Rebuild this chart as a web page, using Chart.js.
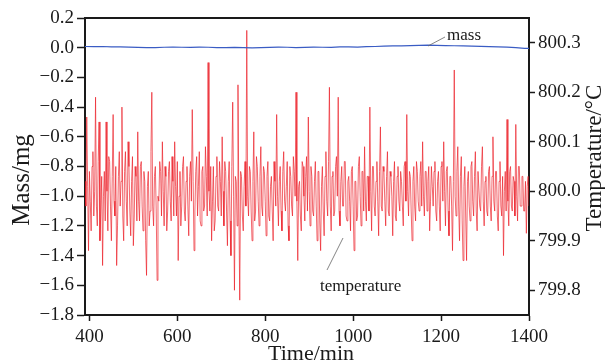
<!DOCTYPE html>
<html>
<head>
<meta charset="utf-8">
<script src="https://cdn.jsdelivr.net/npm/chart.js@4/dist/chart.umd.min.js"></script>
<style>
  body { margin: 0; background: #fff; }
</style>
</head>
<body>
<canvas id="graph" width="605" height="364"></canvas>
<script>
// tick labels
const timeTicks = [400, 600, 800, 1000, 1200, 1400];
const massTicks = [-1.8, -1.6, -1.4, -1.2, -1.0, -0.8, -0.6, -0.4, -0.2, 0.0, 0.2];
const tempTicks = [799.8, 799.9, 800.0, 800.1, 800.2, 800.3];

// mass, mg (one reading every 20 min from 390 min)
const massStart = 390, massStep = 20;
const massValues = [
  0.008, 0.007, 0.008, 0.006, 0.005, 0.004, 0.002, 0.000, 0.001, 0.003,
  0.004, 0.003, 0.002, 0.004, 0.003, 0.001, 0.000, 0.002, 0.000, -0.001,
  0.001, 0.002, 0.004, 0.003, 0.001, 0.002, 0.004, 0.003, 0.002, 0.005,
  0.006, 0.004, 0.007, 0.008, 0.010, 0.012, 0.012, 0.014, 0.015, 0.017,
  0.016, 0.014, 0.013, 0.012, 0.010, 0.009, 0.007, 0.006, 0.004, 0.001,
  -0.004, -0.005
];

// temperature, °C (one reading every 2 min from 390 min)
const tempStart = 390, tempStep = 2;
const tempValues = [
  800.02, 799.97, 800.15, 800.01, 799.88, 800.04, 799.98, 799.92, 800.05, 800.08,
  799.95, 800.00, 800.19, 799.97, 799.93, 800.06, 800.14, 799.90, 799.96, 800.03,
  799.85, 799.99, 800.04, 799.94, 800.14, 800.00, 799.92, 800.07, 800.06, 799.97,
  799.90, 800.03, 800.155, 799.98, 799.95, 800.05, 799.85, 799.93, 800.03, 800.08,
  799.97, 800.02, 800.17, 799.95, 799.90, 800.04, 800.08, 799.98, 799.93, 800.10,
  800.05, 799.96, 799.91, 800.02, 800.07, 799.89, 799.95, 800.05, 800.03, 799.94,
  800.12, 799.98, 799.94, 800.05, 800.06, 799.97, 799.92, 800.04, 800.02, 799.90,
  799.83, 800.01, 800.04, 799.93, 799.96, 800.08, 800.20, 799.97, 799.93, 800.03,
  800.05, 799.96, 799.82, 799.99, 799.98, 800.06, 800.04, 799.95, 800.10, 800.00,
  799.93, 800.05, 800.03, 799.92, 799.96, 800.04, 800.06, 799.98, 799.94, 800.07,
  800.02, 799.95, 800.10, 800.01, 799.95, 800.06, 799.86, 799.99, 800.04, 799.93,
  799.97, 800.05, 800.07, 799.96, 799.94, 800.02, 800.05, 799.97, 799.91, 800.03,
  800.06, 799.98, 800.165, 800.02, 799.88, 799.96, 800.04, 800.07, 799.95, 800.01,
  800.08, 799.94, 799.93, 800.04, 800.05, 799.96, 799.97, 800.09, 800.03, 799.95,
  800.26, 800.00, 799.96, 800.05, 799.90, 799.98, 800.05, 799.92, 799.94, 800.03,
  800.07, 799.97, 799.96, 800.06, 800.02, 799.95, 800.11, 800.00, 799.93, 800.06,
  800.04, 799.96, 799.89, 800.02, 800.06, 799.94, 799.87, 800.05, 800.18, 799.99,
  799.80, 800.03, 800.02, 799.93, 800.215, 799.97, 799.78, 800.04, 800.03, 799.95,
  799.92, 800.01, 800.06, 799.97, 800.325, 799.99, 799.95, 800.05, 800.04, 799.96,
  799.90, 800.02, 800.12, 799.94, 799.96, 800.07, 800.05, 799.98, 799.93, 800.03,
  800.09, 799.97, 799.95, 800.05, 800.04, 799.98, 799.91, 800.03, 800.06, 799.95,
  799.94, 800.01, 800.03, 799.96, 799.90, 800.06, 800.02, 799.97, 800.155, 799.99,
  799.93, 800.02, 800.05, 799.96, 799.92, 800.04, 800.08, 799.98, 799.96, 800.01,
  800.06, 799.93, 799.90, 800.05, 800.03, 799.97, 799.95, 800.07, 800.04, 799.99,
  800.20, 799.98, 799.86, 800.01, 800.02, 799.95, 799.92, 800.06, 800.05, 799.99,
  799.94, 800.03, 800.07, 799.96, 800.15, 800.00, 799.93, 800.05, 800.03, 799.96,
  799.95, 800.02, 800.06, 799.97, 799.90, 800.04, 800.04, 799.94, 799.88, 800.01,
  800.05, 799.96, 799.91, 800.03, 800.08, 799.98, 799.95, 800.06, 800.21, 799.97,
  799.92, 800.03, 800.04, 799.95, 799.96, 800.05, 800.07, 799.99, 800.19, 799.96,
  799.93, 800.02, 800.05, 799.97, 799.97, 800.06, 800.06, 799.95, 799.94, 800.02,
  800.03, 799.98, 799.92, 800.04, 800.05, 799.97, 799.88, 800.02, 800.02, 799.94,
  799.95, 800.05, 800.07, 799.99, 799.93, 800.04, 800.04, 799.96, 800.09, 799.98,
  799.94, 800.03, 800.03, 799.96, 800.17, 800.00, 799.92, 800.05, 800.05, 799.97,
  799.95, 800.02, 800.06, 799.98, 799.91, 800.04, 800.13, 799.97, 799.96, 800.05,
  800.04, 799.98, 799.93, 800.03, 800.08, 799.96, 799.95, 800.04, 800.03, 799.99,
  799.91, 800.02, 800.06, 799.95, 799.94, 800.03, 800.05, 799.98, 799.96, 800.04,
  800.02, 799.97, 799.93, 800.05, 800.06, 799.98, 800.155, 800.00, 799.95, 800.04,
  800.03, 799.96, 799.90, 800.02, 800.05, 799.97, 799.94, 800.06, 800.04, 799.98,
  799.96, 800.03, 800.06, 799.97, 800.10, 799.99, 799.95, 800.04, 800.04, 799.96,
  800.02, 800.05, 799.92, 799.98, 800.05, 800.01, 799.97, 800.04, 800.06, 799.96,
  799.94, 800.02, 800.04, 799.97, 799.92, 800.05, 800.06, 799.98, 800.10, 800.00,
  799.93, 800.04, 800.05, 799.96, 799.91, 800.03, 800.03, 799.97, 799.88, 800.02,
  800.245, 799.99, 799.95, 800.04, 800.09, 799.97, 799.90, 800.03, 800.07, 799.94,
  799.86, 800.01, 800.05, 799.95, 799.86, 800.02, 800.04, 799.97, 799.94, 800.05,
  800.06, 799.98, 799.95, 800.03, 800.08, 799.96, 799.92, 800.04, 800.04, 799.97,
  799.96, 800.05, 800.09, 799.98, 799.93, 800.02, 800.03, 799.96, 799.95, 800.04,
  800.05, 799.97, 799.94, 800.03, 800.11, 799.98, 799.96, 800.04, 800.04, 799.95,
  799.92, 800.02, 800.06, 799.97, 799.95, 800.03, 799.87, 800.00, 800.04, 799.96,
  800.145, 799.98, 799.93, 800.04, 800.05, 799.97, 799.96, 800.03, 800.02, 799.95,
  800.135, 799.99, 799.94, 800.05, 800.05, 799.97, 799.97, 800.03, 800.03, 799.96,
  799.96, 800.02, 799.915, 800.01, 800.03, 799.97
];

const massPts = massValues.map((v, i) => ({ x: massStart + i * massStep, y: v }));
const tempPts = tempValues.map((v, i) => ({ x: tempStart + i * tempStep, y: v }));

const serif = "'Liberation Serif', 'Times New Roman', serif";
const ink = '#1a1a1a';
const tickFont = { family: serif, size: 19 };

const labels = {
  id: 'labels',
  afterDraw(chart) {
    const c = chart.ctx;
    const a = chart.chartArea;
    c.save();
    // top frame line
    c.strokeStyle = ink;
    c.lineWidth = 2;
    c.beginPath();
    c.moveTo(a.left - 1, a.top);
    c.lineTo(a.right + 1, a.top);
    c.stroke();

    // leader lines
    c.strokeStyle = '#666';
    c.lineWidth = 0.8;
    c.beginPath();
    c.moveTo(445, 37); c.lineTo(428, 46);
    c.moveTo(327, 270); c.lineTo(343, 238);
    c.stroke();

    c.fillStyle = ink;
    c.textAlign = 'left';
    c.textBaseline = 'alphabetic';
    c.font = '17px ' + serif;
    c.fillText('mass', 447, 40);
    c.fillText('temperature', 320, 291);

    c.font = '22px ' + serif;
    c.textAlign = 'center';
    c.fillText('Time/min', 311, 360);

    c.textBaseline = 'middle';
    c.translate(22, 180);
    c.rotate(-Math.PI / 2);
    c.font = '25px ' + serif;
    c.fillText('Mass/mg', 0, 0);
    c.restore();

    c.save();
    c.fillStyle = ink;
    c.textAlign = 'center';
    c.textBaseline = 'middle';
    c.translate(595, 158);
    c.rotate(-Math.PI / 2);
    c.font = '23px ' + serif;
    c.fillText('Temperature/\u00B0C', 0, 0);
    c.restore();
  }
};

new Chart(document.getElementById('graph'), {
  type: 'line',
  data: {
    datasets: [
      {
        label: 'mass',
        data: massPts,
        yAxisID: 'y',
        borderColor: '#3a5cc4',
        borderWidth: 1.2,
        pointRadius: 0,
        tension: 0
      },
      {
        label: 'temperature',
        data: tempPts,
        yAxisID: 'y1',
        borderColor: 'rgba(236, 30, 38, 0.85)',
        borderWidth: 0.8,
        pointRadius: 0,
        tension: 0
      }
    ]
  },
  options: {
    responsive: false,
    animation: false,
    layout: { padding: { top: 18, left: 0, right: 0, bottom: 0 } },
    plugins: { legend: { display: false }, tooltip: { enabled: false } },
    scales: {
      x: {
        type: 'linear',
        min: 390,
        max: 1400,
        afterBuildTicks: s => { s.ticks = timeTicks.map(v => ({ value: v })); },
        afterFit: s => { s.height = 49; },
        ticks: { font: tickFont, color: ink, padding: 5, maxRotation: 0, callback: v => String(v) },
        grid: { drawOnChartArea: false, tickLength: 6, tickColor: ink, tickWidth: 1.5 },
        border: { color: ink, width: 2 }
      },
      y: {
        position: 'left',
        min: -1.8,
        max: 0.2,
        afterBuildTicks: s => { s.ticks = massTicks.map(v => ({ value: v })); },
        afterFit: s => { s.width = 85; },
        ticks: { font: tickFont, color: ink, padding: 3, callback: v => v.toFixed(1).replace('-', '\u2212') },
        grid: { drawOnChartArea: false, tickLength: 8, tickColor: ink, tickWidth: 1.5 },
        border: { color: ink, width: 2 }
      },
      y1: {
        position: 'right',
        min: 799.75,
        max: 800.35,
        afterBuildTicks: s => { s.ticks = tempTicks.map(v => ({ value: v })); },
        afterFit: s => { s.width = 76; },
        ticks: { font: tickFont, color: ink, padding: 3, callback: v => v.toFixed(1) },
        grid: { drawOnChartArea: false, tickLength: 6, tickColor: ink, tickWidth: 1.5 },
        border: { color: ink, width: 2 }
      }
    }
  },
  plugins: [labels]
});
</script>
</body>
</html>
